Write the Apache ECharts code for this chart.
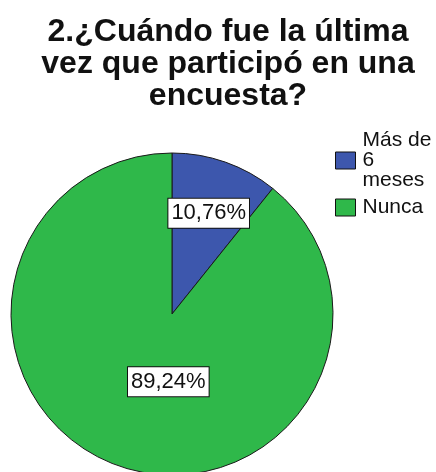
<!DOCTYPE html>
<html>
<head>
<meta charset="utf-8">
<script src="https://cdn.jsdelivr.net/npm/echarts@6/dist/echarts.min.js"></script>
<style>
  html, body { margin: 0; padding: 0; background: #ffffff; }
  #chart { width: 436px; height: 472px; }
</style>
</head>
<body>
<div id="chart"></div>
<script>
// Survey question 2: when did the respondent last take part in a survey
const titleText = '2.¿Cuándo fue la última\nvez que participó en una\nencuesta?';
const categories = ['Más de 6 meses', 'Nunca'];
const percentages = [10.76, 89.24];
const sliceColors = ['#3d57ad', '#2fb84a'];
// per-slice nudge of the value box from its default inside spot
const labelOffsets = [[9, -22], [24, -11]];

const fmtPct = v => v.toFixed(2).replace('.', ',') + '%';

const chart = echarts.init(document.getElementById('chart'), null, { renderer: 'canvas' });

chart.setOption({
  backgroundColor: '#ffffff',
  animation: false,
  title: {
    text: titleText,
    left: 223,
    textAlign: 'center',
    top: 11,
    textStyle: {
      fontFamily: 'Liberation Sans, Arial, sans-serif',
      fontSize: 32,
      fontWeight: 'bold',
      lineHeight: 32,
      color: '#111111'
    }
  },
  legend: {
    orient: 'vertical',
    left: 330,
    top: 125,
    itemWidth: 20,
    itemHeight: 17,
    itemGap: 6,
    icon: 'rect',
    data: categories,
    formatter: name => name.replace('Más de 6 meses', 'Más de\n6\nmeses'),
    itemStyle: { borderColor: '#111111', borderWidth: 1 },
    textStyle: {
      fontFamily: 'Liberation Sans, Arial, sans-serif',
      fontSize: 21,
      lineHeight: 20,
      color: '#111111',
      padding: [0, 0, 0, 2]
    }
  },
  series: [{
    type: 'pie',
    center: [172, 314],
    radius: 161,
    startAngle: 90,
    clockwise: true,
    avoidLabelOverlap: false,
    labelLine: { show: false },
    itemStyle: { borderColor: '#1a1a1a', borderWidth: 1 },
    emphasis: { disabled: true },
    label: {
      show: true,
      position: 'inside',
      formatter: p => fmtPct(p.value),
      fontFamily: 'Liberation Sans, Arial, sans-serif',
      fontSize: 22,
      color: '#111111',
      backgroundColor: '#ffffff',
      borderColor: '#111111',
      borderWidth: 1,
      padding: [4, 3, 3, 3]
    },
    data: categories.map((name, i) => ({
      name: name,
      value: percentages[i],
      itemStyle: { color: sliceColors[i] },
      label: { offset: labelOffsets[i] }
    }))
  }]
});
</script>
</body>
</html>
